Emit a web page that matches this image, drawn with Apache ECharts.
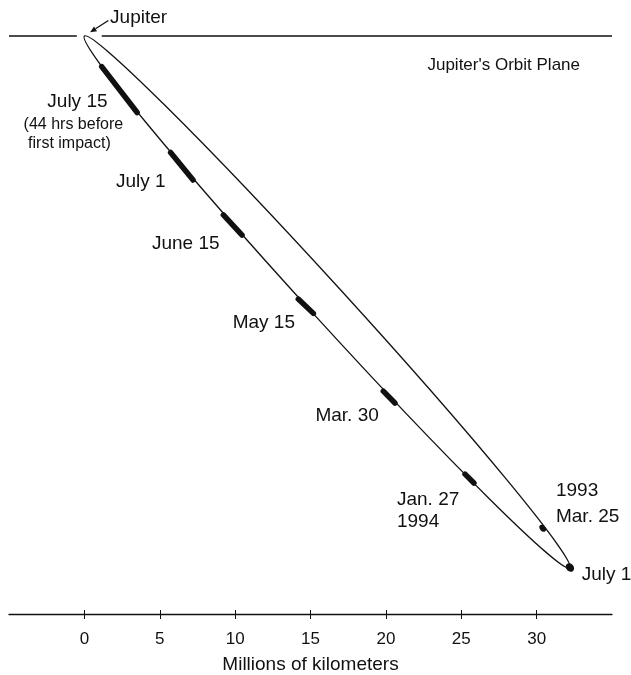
<!DOCTYPE html>
<html>
<head>
<meta charset="utf-8">
<script src="https://cdn.jsdelivr.net/npm/echarts@6/dist/echarts.min.js"></script>
<style>
  html, body { margin: 0; padding: 0; background: #ffffff; }
  #chart { width: 631px; height: 675px; }
</style>
</head>
<body>
<div id="chart"></div>
<script>
// Distances in millions of kilometres: x along Jupiter's orbit plane, y below it.
const xTicks = [0, 5, 10, 15, 20, 25, 30];
const xRange = [-5, 35];
const yRange = [0, 38.3];

// Jupiter and the plane of its orbit (the line breaks around the planet).
const jupiter = [0, 0];
const planeSegments = [[-5, -0.5], [1.15, 35]];

// Projected orbit of the comet: the two tips of the ellipse and its half-width.
const orbitTips = [[0, 0], [32.2, 35.25]];
const orbitHalfWidth = 1.2;

// Fragment train on each date: where the train starts and ends.
const trainDates = ['July 15', 'July 1', 'June 15', 'May 15', 'Mar. 30', 'Jan. 27'];
const trainNotes = [['(44 hrs before', 'first impact)'], [], [], [], [], ['1994']];
const trainStart = [[1.15, 2.03], [5.72, 7.72], [9.22, 11.86], [14.19, 17.43], [19.83, 23.53], [25.25, 29.03]];
const trainEnd = [[3.50, 5.07], [7.21, 9.54], [10.46, 13.19], [15.19, 18.38], [20.60, 24.32], [25.84, 29.62]];

// Single nucleus before the break-up (1993).
const nucleusDates = ['Mar. 25', 'July 1'];
const nucleusNotes = [['1993'], []];
const nucleusPos = [[30.40, 32.62], [32.21, 35.22]];

// ---- styling and label placement (pixels) ----
const INK = '#111111';
const FONT = '"Liberation Sans", Arial, Helvetica, sans-serif';
const TEXT_SHIFT = 2.5; // puts the cap centre of a label on its anchor
const trainLabelLayout = [
  { dx: -42, dy: 10, align: 'center', note: [[-46, 33], [-50, 52]], noteSize: 16 },
  { dx: -41, dy: 13, align: 'center' },
  { dx: -47, dy: 16, align: 'center' },
  { dx: -42, dy: 14, align: 'center' },
  { dx: -42, dy: 16, align: 'center' },
  { dx: -72.5, dy: 18.5, align: 'left', note: [[-72.5, 41]], noteSize: 19 }
];
const nucleusLabelLayout = [
  { dx: 13.3, dy: -14.3, align: 'left', note: [[13.3, -40.3]], noteSize: 19, rx: 4, ry: 2.8 },
  { dx: 11.7, dy: 4.5, align: 'left', rx: 4.6, ry: 3.8 }
];

function text(str, x, y, size, align) {
  return {
    type: 'text', x: x, y: y + TEXT_SHIFT,
    style: { text: str, fill: INK, font: size + 'px ' + FONT, align: align, verticalAlign: 'middle' }
  };
}

function orbitAngle(api) {
  const a = api.coord(orbitTips[0]);
  const b = api.coord(orbitTips[1]);
  return Math.atan2(b[1] - a[1], b[0] - a[0]);
}

const chart = echarts.init(document.getElementById('chart'), null, { renderer: 'canvas' });

chart.setOption({
  animation: false,
  backgroundColor: '#ffffff',
  grid: { left: 9, right: 19, top: 36, bottom: 61, outerBoundsMode: 'none', containLabel: false },
  xAxis: [
    {
      type: 'value', min: xRange[0], max: xRange[1], position: 'bottom',
      splitLine: { show: false },
      axisLine: { show: true, onZero: false, lineStyle: { color: INK, width: 1.3 } },
      axisTick: { show: true, customValues: xTicks, length: 5, lineStyle: { color: INK, width: 1 } },
      axisLabel: { show: true, customValues: xTicks, margin: 17, color: INK, fontSize: 17, fontFamily: FONT },
      name: 'Millions of kilometers', nameLocation: 'middle', nameGap: 41,
      nameTextStyle: { color: INK, fontSize: 19, fontFamily: FONT }
    },
    {
      type: 'value', min: xRange[0], max: xRange[1], position: 'bottom',
      splitLine: { show: false },
      axisLine: { show: false, onZero: false },
      axisTick: { show: true, inside: true, customValues: xTicks, length: 4, lineStyle: { color: INK, width: 1 } },
      axisLabel: { show: false }
    }
  ],
  yAxis: { type: 'value', min: yRange[0], max: yRange[1], inverse: true, show: false },
  series: [
    // Jupiter's orbit plane with the label at its right end
    {
      type: 'custom', clip: false, silent: true,
      data: planeSegments.map(s => [s[0], s[1]]),
      renderItem(params, api) {
        const p1 = api.coord([api.value(0), 0]);
        const p2 = api.coord([api.value(1), 0]);
        const children = [{
          type: 'line', shape: { x1: p1[0], y1: p1[1], x2: p2[0], y2: p2[1] },
          style: { stroke: INK, lineWidth: 1.3 }
        }];
        if (params.dataIndex === planeSegments.length - 1) {
          children.push(text("Jupiter's Orbit Plane", p2[0] - 32, p2[1] + 26.5, 17, 'right'));
        }
        return { type: 'group', children: children };
      }
    },
    // Jupiter marker: name and arrow
    {
      type: 'custom', clip: false, silent: true,
      data: [jupiter],
      renderItem(params, api) {
        const p = api.coord([api.value(0), api.value(1)]);
        const tail = [p[0] + 24, p[1] - 15.5];
        const head = [p[0] + 5.7, p[1] - 3.7];
        const ang = Math.atan2(head[1] - tail[1], head[0] - tail[0]);
        const L = 6.5, W = 2.8;
        const bx = head[0] - L * Math.cos(ang), by = head[1] - L * Math.sin(ang);
        return {
          type: 'group',
          children: [
            { type: 'line', shape: { x1: tail[0], y1: tail[1], x2: bx, y2: by }, style: { stroke: INK, lineWidth: 1.3 } },
            {
              type: 'polygon',
              shape: { points: [head, [bx + W * Math.sin(ang), by - W * Math.cos(ang)], [bx - W * Math.sin(ang), by + W * Math.cos(ang)]] },
              style: { fill: INK }
            },
            text('Jupiter', p[0] + 25.7, p[1] - 21, 19, 'left')
          ]
        };
      }
    },
    // comet orbit (projected ellipse)
    {
      type: 'custom', clip: false, silent: true,
      data: [[orbitTips[0][0], orbitTips[0][1], orbitTips[1][0], orbitTips[1][1], orbitHalfWidth]],
      renderItem(params, api) {
        const a = api.coord([api.value(0), api.value(1)]);
        const b = api.coord([api.value(2), api.value(3)]);
        const w = api.size([api.value(4), api.value(4)]);
        const ang = Math.atan2(b[1] - a[1], b[0] - a[0]);
        return {
          type: 'ellipse',
          x: (a[0] + b[0]) / 2, y: (a[1] + b[1]) / 2,
          rotation: -ang,
          shape: { cx: 0, cy: 0, rx: Math.hypot(b[0] - a[0], b[1] - a[1]) / 2, ry: (w[0] + w[1]) / 2 },
          style: { fill: 'none', stroke: INK, lineWidth: 1.3 }
        };
      }
    },
    // fragment trains with their dates
    {
      type: 'custom', clip: false, silent: true,
      data: trainStart.map((s, i) => [s[0], s[1], trainEnd[i][0], trainEnd[i][1]]),
      renderItem(params, api) {
        const i = params.dataIndex;
        const p1 = api.coord([api.value(0), api.value(1)]);
        const p2 = api.coord([api.value(2), api.value(3)]);
        const c = [(p1[0] + p2[0]) / 2, (p1[1] + p2[1]) / 2];
        const lay = trainLabelLayout[i];
        const children = [
          { type: 'line', shape: { x1: p1[0], y1: p1[1], x2: p2[0], y2: p2[1] },
            style: { stroke: INK, lineWidth: 5.5, lineCap: 'round' } },
          text(trainDates[i], c[0] + lay.dx, c[1] + lay.dy, 19, lay.align)
        ];
        trainNotes[i].forEach((line, k) => {
          children.push(text(line, c[0] + lay.note[k][0], c[1] + lay.note[k][1], lay.noteSize, lay.align));
        });
        return { type: 'group', children: children };
      }
    },
    // single nucleus positions with their dates
    {
      type: 'custom', clip: false, silent: true,
      data: nucleusPos.map(p => [p[0], p[1]]),
      renderItem(params, api) {
        const i = params.dataIndex;
        const p = api.coord([api.value(0), api.value(1)]);
        const lay = nucleusLabelLayout[i];
        const children = [
          { type: 'ellipse', x: p[0], y: p[1], rotation: -orbitAngle(api),
            shape: { cx: 0, cy: 0, rx: lay.rx, ry: lay.ry }, style: { fill: INK } },
          text(nucleusDates[i], p[0] + lay.dx, p[1] + lay.dy, 19, lay.align)
        ];
        nucleusNotes[i].forEach((line, k) => {
          children.push(text(line, p[0] + lay.note[k][0], p[1] + lay.note[k][1], lay.noteSize, lay.align));
        });
        return { type: 'group', children: children };
      }
    }
  ]
});
</script>
</body>
</html>
